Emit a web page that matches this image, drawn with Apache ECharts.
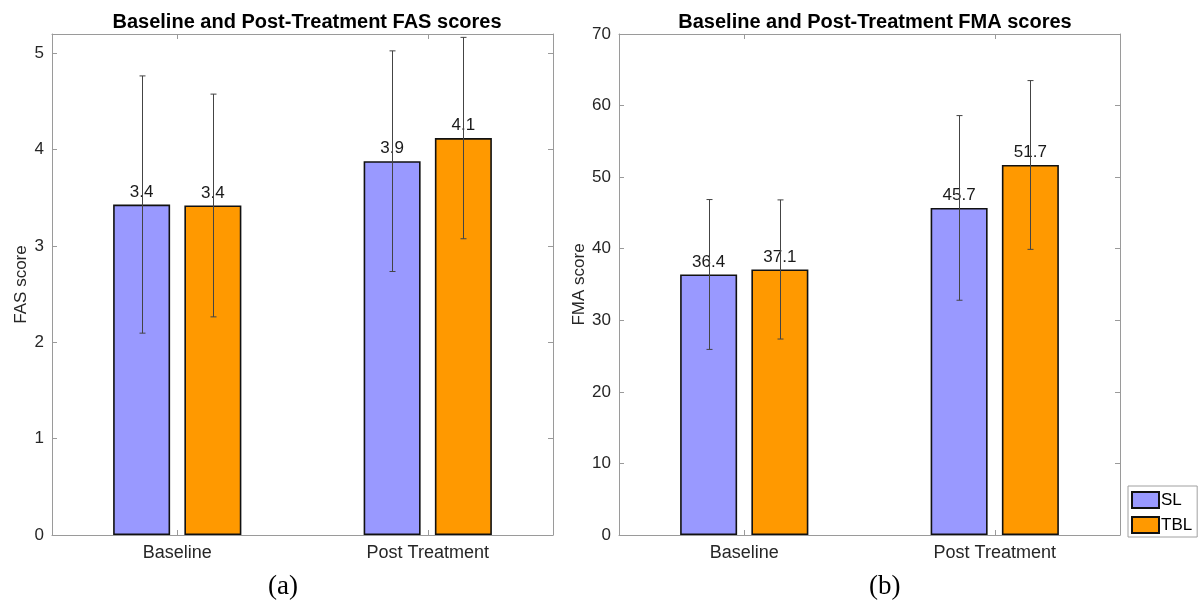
<!DOCTYPE html>
<html>
<head>
<meta charset="utf-8">
<script src="https://cdn.jsdelivr.net/npm/echarts@6/dist/echarts.min.js"></script>
<style>html,body{margin:0;padding:0;background:#fff}#c{width:1200px;height:606px}</style>
</head>
<body>
<div id="c"></div>
<script>
// ---- data ----
var categories = ['Baseline', 'Post Treatment'];
var seriesNames = ['SL', 'TBL'];
var fasSL = [3.43, 3.88];
var fasTBL = [3.42, 4.12];
var fasSL_sd = [1.335, 1.145];
var fasTBL_sd = [1.156, 1.045];
var fmaSL = [36.4, 45.7];
var fmaTBL = [37.1, 51.7];
var fmaSL_sd = [10.47, 12.9];
var fmaTBL_sd = [9.72, 11.79];
var fasTicks = [0, 1, 2, 3, 4, 5];
var fmaTicks = [0, 10, 20, 30, 40, 50, 60, 70];

// ---- style ----
var FONT = 'Liberation Sans, Arial, sans-serif';
var BOX = '#9a9a9a';
var TXT = '#262626';
var COL_SL = '#9999ff';
var COL_TBL = '#ff9900';
var BAR_W = 57;
var BAR_GAP = 0.25;
var offs = [-(BAR_W * (1 + BAR_GAP)) / 2, (BAR_W * (1 + BAR_GAP)) / 2];

function grids() {
  return [
    {left: 52, right: 647, top: 34, bottom: 71, containLabel: false},
    {left: 619, right: 80, top: 34, bottom: 71, containLabel: false}
  ];
}
function xAxes(gi) {
  return [
    {type: 'category', gridIndex: gi, position: 'bottom', data: categories,
      axisLine: {show: true, lineStyle: {color: BOX, width: 1}},
      axisTick: {show: true, inside: true, alignWithLabel: true, length: 5, lineStyle: {color: BOX}},
      axisLabel: {color: TXT, fontSize: 18, fontFamily: FONT, margin: 9},
      splitLine: {show: false}},
    {type: 'category', gridIndex: gi, position: 'top', data: categories,
      axisLine: {show: true, onZero: false, lineStyle: {color: BOX, width: 1}},
      axisTick: {show: true, inside: true, alignWithLabel: true, length: 5, lineStyle: {color: BOX}},
      axisLabel: {show: false}, splitLine: {show: false}}
  ];
}
function yAxes(gi, max, interval, name, gap) {
  return [
    {type: 'value', gridIndex: gi, position: 'left', min: 0, max: max, interval: interval,
      name: name, nameLocation: 'middle', nameGap: gap,
      nameTextStyle: {color: TXT, fontSize: 17, fontFamily: FONT},
      axisLine: {show: true, lineStyle: {color: BOX, width: 1}},
      axisTick: {show: true, inside: true, length: 5, lineStyle: {color: BOX}},
      axisLabel: {color: TXT, fontSize: 17, fontFamily: FONT, margin: 8, showMaxLabel: max % interval === 0,
        formatter: function (v) { return (v % interval === 0) ? String(v) : ''; }},
      splitLine: {show: false}},
    {type: 'value', gridIndex: gi, position: 'right', min: 0, max: max, interval: interval,
      axisLine: {show: true, lineStyle: {color: BOX, width: 1}},
      axisTick: {show: true, inside: true, length: 5, lineStyle: {color: BOX}},
      axisLabel: {show: false}, splitLine: {show: false}}
  ];
}

function barSeries(name, vals, color, xi, yi) {
  return {
    name: name, type: 'bar', xAxisIndex: xi, yAxisIndex: yi,
    data: vals, barWidth: BAR_W, barGap: (BAR_GAP * 100) + '%',
    itemStyle: {color: color, borderColor: '#111', borderWidth: 1.6},
    label: {show: true, position: 'top', distance: 4, color: '#1a1a1a', fontSize: 17, fontFamily: FONT,
      formatter: function (p) { return p.value.toFixed(1); }},
    z: 2
  };
}
function errSeries(name, vals, sds, which, xi, yi) {
  var d = vals.map(function (v, i) { return [i, v, sds[i]]; });
  return {
    name: name + ' err', type: 'custom', xAxisIndex: xi, yAxisIndex: yi, data: d, z: 5,
    silent: true, legendHoverLink: false,
    encode: {x: 0, y: 1},
    renderItem: function (params, api) {
      var i = api.value(0), m = api.value(1), s = api.value(2);
      var top = api.coord([i, m + s]);
      var bot = api.coord([i, m - s]);
      var x = Math.round(top[0] + offs[which]) + 0.5;
      var st = {stroke: '#444', lineWidth: 1};
      return {type: 'group', children: [
        {type: 'line', shape: {x1: x, y1: top[1], x2: x, y2: bot[1]}, style: st},
        {type: 'line', shape: {x1: x - 3, y1: top[1], x2: x + 3, y2: top[1]}, style: st},
        {type: 'line', shape: {x1: x - 3, y1: bot[1], x2: x + 3, y2: bot[1]}, style: st}
      ]};
    }
  };
}

var chart = echarts.init(document.getElementById('c'), null, {renderer: 'canvas'});
var option = {
  backgroundColor: '#fff',
  animation: false,
  title: [
    {text: 'Baseline and Post-Treatment FAS scores', left: 302, top: 7, textAlign: 'center',
      textStyle: {fontFamily: FONT, fontSize: 20, fontWeight: 'bold', color: '#000'}},
    {text: 'Baseline and Post-Treatment FMA scores', left: 870, top: 7, textAlign: 'center',
      textStyle: {fontFamily: FONT, fontSize: 20, fontWeight: 'bold', color: '#000'}}
  ],
  legend: {
    data: seriesNames, orient: 'vertical', left: 1128, top: 486,
    itemWidth: 27, itemHeight: 16, itemGap: 7, icon: 'rect',
    padding: [5, 5, 3, 3], borderColor: '#a0a0a0', borderWidth: 1, backgroundColor: '#fff',
    textStyle: {fontFamily: FONT, fontSize: 17, color: '#000', padding: [0, 0, 0, -3]},
    selectedMode: false
  },
  grid: grids(),
  xAxis: xAxes(0).concat(xAxes(1)),
  yAxis: yAxes(0, 5.2, 1, 'FAS score', 22).concat(yAxes(1, 70, 10, 'FMA score', 31)),
  series: [
    barSeries('SL', fasSL, COL_SL, 0, 0),
    barSeries('TBL', fasTBL, COL_TBL, 0, 0),
    errSeries('SL', fasSL, fasSL_sd, 0, 0, 0),
    errSeries('TBL', fasTBL, fasTBL_sd, 1, 0, 0),
    barSeries('SL', fmaSL, COL_SL, 2, 2),
    barSeries('TBL', fmaTBL, COL_TBL, 2, 2),
    errSeries('SL', fmaSL, fmaSL_sd, 0, 2, 2),
    errSeries('TBL', fmaTBL, fmaTBL_sd, 1, 2, 2)
  ],
  graphic: [
    {type: 'text', left: 268, top: 573, style: {text: '(a)', fontFamily: 'Liberation Serif, DejaVu Serif, serif', fontSize: 27, fill: '#000'}},
    {type: 'text', left: 869, top: 573, style: {text: '(b)', fontFamily: 'Liberation Serif, DejaVu Serif, serif', fontSize: 27, fill: '#000'}}
  ]
};
chart.setOption(option);
</script>
</body>
</html>
